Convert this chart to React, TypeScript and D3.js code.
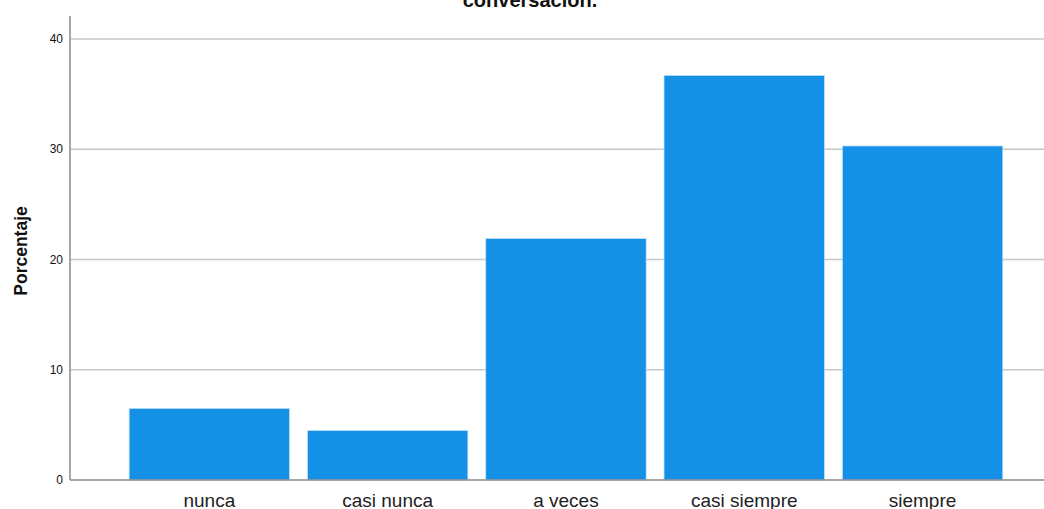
import React from "react";
import * as d3 from "d3";

const categories = ["nunca", "casi nunca", "a veces", "casi siempre", "siempre"];
const values = [6.5, 4.5, 21.9, 36.7, 30.3];
const yTicks = [0, 10, 20, 30, 40];
const titleText = "conversación.";
const yLabel = "Porcentaje";

export default function App() {
  const W = 1044, H = 509;
  const y = d3.scaleLinear().domain([0, 40]).range([480, 39]);
  const x = d3.scaleBand<string>().domain(categories).range([120.2, 1011.7]).paddingInner(0.1).paddingOuter(0.05);
  return (
    <svg width={W} height={H} style={{ position: "absolute", left: 0, top: 0, background: "#fff" }} fontFamily="Liberation Sans, Arial, sans-serif">
      {yTicks.filter(t => t > 0).map(t => (
        <line key={t} x1={70} x2={W} y1={y(t)} y2={y(t)} stroke="#c8c8c8" strokeWidth={1.5} />
      ))}
      {categories.map((c, i) => (
        <rect key={c} x={x(c)} y={y(values[i])} width={x.bandwidth()} height={y(0) - y(values[i])} fill="#1491e6" stroke="#c6e2f8" strokeWidth={0.8} />
      ))}
      <line x1={70} x2={70} y1={16} y2={480} stroke="#8a8a8a" strokeWidth={1.5} />
      <line x1={70} x2={W} y1={480} y2={480} stroke="#8a8a8a" strokeWidth={1.5} />
      {yTicks.map(t => (
        <text key={t} x={63} y={y(t)} dy="0.35em" textAnchor="end" fontSize={12} fill="#111">{t}</text>
      ))}
      {categories.map(c => (
        <text key={c} x={(x(c) as number) + x.bandwidth() / 2} y={507} textAnchor="middle" fontSize={19} fill="#222">{c}</text>
      ))}
      <text x={530} y={7} textAnchor="middle" fontSize={20} fontWeight="bold" fill="#111">{titleText}</text>
      <text transform="translate(27,251) rotate(-90)" textAnchor="middle" fontSize={17.5} fontWeight="bold" fill="#111">{yLabel}</text>
    </svg>
  );
}
